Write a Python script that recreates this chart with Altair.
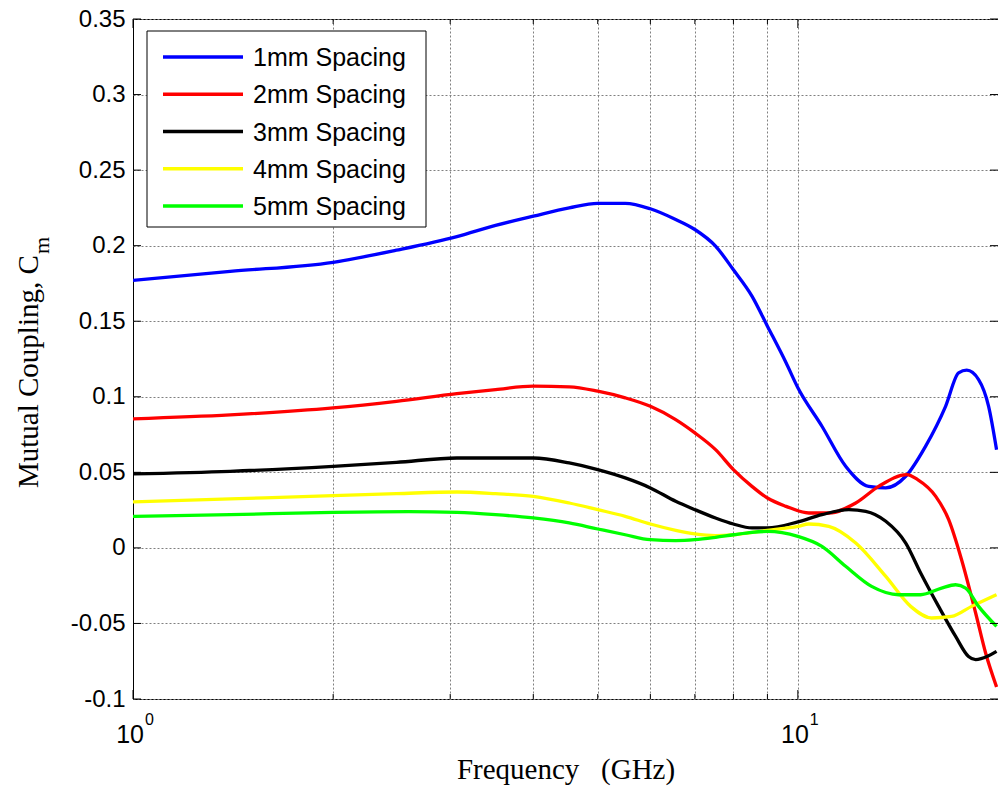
import altair as alt
import pandas as pd

# ---------------- data ----------------
names = ["1mm Spacing", "2mm Spacing", "3mm Spacing", "4mm Spacing", "5mm Spacing"]
colors = ["#0000ff", "#ff0000", "#000000", "#ffff00", "#00ff00"]

f_1mm = [1.0, 1.4, 2.0, 2.49, 3.07, 3.51, 4.0, 4.53, 5.0, 5.5, 6.0, 6.55, 7.0, 7.52, 8.0,
         8.53, 9.0, 9.6, 10.0, 10.87, 11.80, 12.78, 13.56, 14.53, 15.56, 16.68, 17.45,
         17.95, 18.70, 19.36, 19.90]
c_1mm = [0.177, 0.183, 0.189, 0.197, 0.206, 0.2134, 0.2195, 0.225, 0.228, 0.228, 0.2244,
         0.2173, 0.2107, 0.1997, 0.184, 0.1666, 0.1467, 0.1225, 0.106, 0.0805, 0.054,
         0.0407, 0.0397, 0.0474, 0.0672, 0.0937, 0.1158, 0.1176, 0.1114, 0.0937, 0.065]

f_2mm = [1.0, 1.4, 2.0, 2.49, 3.07, 3.51, 4.0, 4.53, 5.0, 5.5, 6.0, 6.55, 7.0, 7.52, 8.0,
         8.53, 9.0, 9.6, 10.39, 11.13, 12.22, 13.23, 14.58, 15.14, 16.12, 16.86, 17.63,
         18.51, 19.16, 19.90]
c_2mm = [0.0854, 0.088, 0.0926, 0.097, 0.1021, 0.1048, 0.107, 0.1066, 0.1037, 0.0993,
         0.0937, 0.0849, 0.0761, 0.065, 0.0518, 0.0407, 0.033, 0.0275, 0.0231, 0.0231,
         0.0297, 0.0407, 0.0485, 0.0452, 0.0341, 0.0187, -0.0078, -0.0431, -0.0696, -0.092]

f_3mm = [1.0, 1.4, 2.0, 2.49, 3.07, 4.0, 4.53, 5.0, 5.5, 6.0, 6.55, 7.0, 7.52, 8.0, 8.53,
         9.0, 10.0, 10.87, 11.93, 12.65, 13.56, 14.53, 15.30, 16.28, 17.27, 18.06, 18.51,
         19.36, 19.90]
c_3mm = [0.049, 0.0507, 0.054, 0.0566, 0.0595, 0.0595, 0.0562, 0.0518, 0.0463, 0.0397,
         0.0308, 0.0253, 0.0198, 0.0158, 0.0132, 0.0132, 0.0172, 0.022, 0.0253, 0.0242,
         0.0176, 0.0032, -0.0166, -0.0387, -0.0586, -0.0719, -0.074, -0.0714, -0.0685]

f_4mm = [1.0, 1.4, 2.0, 2.49, 3.07, 3.51, 4.0, 4.53, 5.0, 5.5, 6.0, 6.55, 7.0, 7.52, 8.0,
         9.0, 10.0, 10.39, 11.13, 12.22, 13.56, 14.78, 15.89, 17.03, 18.25, 19.16, 19.90]
c_4mm = [0.0304, 0.0324, 0.0346, 0.0359, 0.037, 0.0359, 0.0341, 0.0297, 0.0253, 0.0209,
         0.0158, 0.0116, 0.0092, 0.0081, 0.0087, 0.0116, 0.0142, 0.0158, 0.0142, 0.0032,
         -0.0189, -0.0387, -0.0464, -0.0454, -0.0387, -0.0343, -0.031]

f_5mm = [1.0, 1.4, 2.0, 2.6, 3.07, 3.51, 4.0, 4.53, 5.0, 5.5, 6.0, 6.55, 7.0, 7.52, 8.0,
         8.53, 9.0, 10.0, 10.87, 11.80, 12.91, 14.18, 15.30, 16.45, 17.27, 17.88, 18.70,
         19.90]
c_5mm = [0.0209, 0.022, 0.0235, 0.0240, 0.0235, 0.022, 0.0198, 0.0165, 0.0125, 0.0087,
         0.0054, 0.0048, 0.0054, 0.007, 0.0087, 0.0103, 0.0109, 0.0076, 0.001, -0.0122,
         -0.0255, -0.031, -0.031, -0.0266, -0.0244, -0.0266, -0.0387, -0.052]

y_ticks = [-0.1, -0.05, 0, 0.05, 0.1, 0.15, 0.2, 0.25, 0.3, 0.35]
x_grid = [2, 3, 4, 5, 6, 7, 8, 9, 10]
x_minor = [2, 3, 4, 5, 6, 7, 8, 9]
x_major = [1, 10]
x_label_base = ["10", "10"]
x_label_exp = ["0", "1"]

y_title_main = "Mutual Coupling, C"
y_title_sub = "m"
x_title = "Frequency\u00a0\u00a0\u00a0(GHz)"

# ---------------- layout ----------------
W, H = 865, 680
SANS = "Liberation Sans"
SERIF = "Liberation Serif"

rows = []
for name, fs, cs in zip(names, [f_1mm, f_2mm, f_3mm, f_4mm, f_5mm],
                        [c_1mm, c_2mm, c_3mm, c_4mm, c_5mm]):
    for f, c in zip(fs, cs):
        rows.append({"series": name, "freq": f, "cm": c})
df = pd.DataFrame(rows)

xscale = alt.Scale(type="log", domain=[1, 20], nice=False)
yscale = alt.Scale(domain=[-0.1, 0.35], nice=False, zero=False)

x_axis = alt.Axis(values=x_grid, labels=False, ticks=False, domain=False, grid=True,
                  gridColor="#808080", gridDash=[2, 2], gridWidth=1,
                  title=x_title, titleFont=SERIF, titleFontSize=29,
                  titleFontWeight="normal", titleColor="black", titlePadding=56)
y_axis = alt.Axis(values=y_ticks,
                  labelExpr="datum.value < 0 ? '-' + format(-datum.value, '~g') : format(datum.value, '~g')",
                  labelFont=SANS, labelFontSize=24, labelColor="black", labelPadding=8,
                  ticks=False, domain=False, grid=True, gridColor="#808080",
                  gridDash=[2, 2], gridWidth=1, title=None)


def X(field):
    return alt.X(field, scale=xscale, axis=x_axis)


def Y(field):
    return alt.Y(field, scale=yscale, axis=y_axis)


lines = alt.Chart(df).mark_line(strokeWidth=3.3, interpolate="monotone", clip=True).encode(
    x=X("freq:Q"),
    y=Y("cm:Q"),
    color=alt.Color("series:N", scale=alt.Scale(domain=names, range=colors), legend=None),
)

# inward tick marks (MATLAB style)
ytick_df = pd.DataFrame({"cm": y_ticks})
ytl = alt.Chart(ytick_df).mark_rule(color="black", strokeWidth=1).encode(
    y=Y("cm:Q"), x=alt.value(0), x2=alt.value(8))
ytr = alt.Chart(ytick_df).mark_rule(color="black", strokeWidth=1).encode(
    y=Y("cm:Q"), x=alt.value(W - 8), x2=alt.value(W))

xminor_df = pd.DataFrame({"freq": x_minor})
xmajor_df = pd.DataFrame({"freq": x_major})
xtb = alt.Chart(xminor_df).mark_rule(color="black", strokeWidth=1).encode(
    x=X("freq:Q"), y=alt.value(H - 5), y2=alt.value(H))
xtt = alt.Chart(xminor_df).mark_rule(color="black", strokeWidth=1).encode(
    x=X("freq:Q"), y=alt.value(0), y2=alt.value(5))
xMb = alt.Chart(xmajor_df).mark_rule(color="black", strokeWidth=1).encode(
    x=X("freq:Q"), y=alt.value(H - 9), y2=alt.value(H))
xMt = alt.Chart(xmajor_df).mark_rule(color="black", strokeWidth=1).encode(
    x=X("freq:Q"), y=alt.value(0), y2=alt.value(9))

# x tick labels 10^0, 10^1
xlab_df = pd.DataFrame({"freq": x_major, "base": x_label_base, "exp": x_label_exp})
xlab_base = alt.Chart(xlab_df).mark_text(font=SANS, fontSize=25, align="right",
                                         baseline="alphabetic", dx=11, color="black").encode(
    x=X("freq:Q"), y=alt.value(H + 44), text="base:N")
xlab_exp = alt.Chart(xlab_df).mark_text(font=SANS, fontSize=16, align="left",
                                        baseline="alphabetic", dx=12, color="black").encode(
    x=X("freq:Q"), y=alt.value(H + 26), text="exp:N")

# y title with subscript
yt_df = pd.DataFrame({"main": [y_title_main], "sub": [y_title_sub]})
yt_main = alt.Chart(yt_df).mark_text(font=SERIF, fontSize=29, angle=270, align="left",
                                     baseline="alphabetic", color="black").encode(
    x=alt.value(-95), y=alt.value(469), text="main:N")
yt_sub = alt.Chart(yt_df).mark_text(font=SERIF, fontSize=22, angle=270, align="left",
                                    baseline="alphabetic", color="black").encode(
    x=alt.value(-84), y=alt.value(235), text="sub:N")

# legend (drawn by hand, MATLAB style)
leg_box = alt.Chart(pd.DataFrame({"k": [0]})).mark_rect(
    fill="white", stroke="black", strokeWidth=1).encode(
    x=alt.value(14), x2=alt.value(293), y=alt.value(12), y2=alt.value(208))
leg_layers = [leg_box]
for i, (name, col) in enumerate(zip(names, colors)):
    yy = 38 + 37.25 * i
    ldf = pd.DataFrame({"name": [name]})
    leg_layers.append(alt.Chart(ldf).mark_rule(color=col, strokeWidth=3.3).encode(
        x=alt.value(30), x2=alt.value(110), y=alt.value(yy)))
    leg_layers.append(alt.Chart(ldf).mark_text(font=SANS, fontSize=25, align="left",
                                               baseline="middle", color="black").encode(
        x=alt.value(120), y=alt.value(yy + 1), text="name:N"))

chart = alt.layer(
    lines, ytl, ytr, xtb, xtt, xMb, xMt, xlab_base, xlab_exp, yt_main, yt_sub, *leg_layers
).properties(
    width=W, height=H,
    autosize=alt.AutoSizeParams(type="none"),
    padding={"left": 133, "top": 19, "right": 0, "bottom": 89},
    background="white",
).configure_view(stroke="black", strokeWidth=1)

chart.save("out.html", embed_options={"renderer": "svg", "actions": False})
